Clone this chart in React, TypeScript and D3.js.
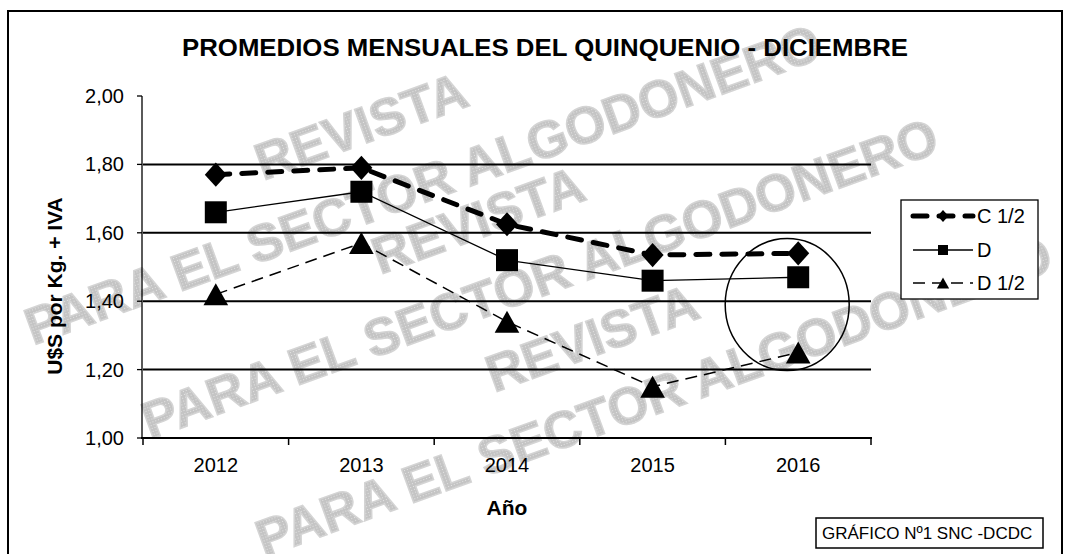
import * as d3 from "d3";

// chart data
const years = ["2012", "2013", "2014", "2015", "2016"];
const c12Values = [1.77, 1.79, 1.625, 1.535, 1.54];
const dValues = [1.66, 1.72, 1.52, 1.46, 1.47];
const d12Values = [1.42, 1.57, 1.34, 1.15, 1.25];
const yTicks = [1.0, 1.2, 1.4, 1.6, 1.8, 2.0];
const gridValues = [1.2, 1.4, 1.6, 1.8];
const seriesNames = ["C 1/2", "D", "D 1/2"];
const watermarkText = ["REVISTA", "PARA EL SECTOR ALGODONERO"];

const FONT = "'Liberation Sans', Arial, sans-serif";
const W = 1068;
const H = 554;

// custom marker shapes for d3.symbol
const diamond = {
  draw(ctx: any, size: number) {
    const r = Math.sqrt(size) / 2;
    ctx.moveTo(0, -r * 1.1);
    ctx.lineTo(r, 0);
    ctx.lineTo(0, r * 1.1);
    ctx.lineTo(-r, 0);
    ctx.closePath();
  },
};
const triangle = {
  draw(ctx: any, size: number) {
    const r = Math.sqrt(size) / 2;
    ctx.moveTo(0, -r);
    ctx.lineTo(r * 1.12, r);
    ctx.lineTo(-r * 1.12, r);
    ctx.closePath();
  },
};

const seriesStyle = [
  { width: 5, dash: "14 12", cap: "round", symbol: diamond, size: 484, legendSize: 121 },
  { width: 1.3, dash: null, cap: "butt", symbol: d3.symbolSquare, size: 484, legendSize: 100 },
  { width: 1.5, dash: "12 7", cap: "butt", symbol: triangle, size: 484, legendSize: 121 },
];

// watermark placements (centre of first line)
const watermarks = [
  [361, 126],
  [478, 220],
  [592, 338],
];

export default function App() {
  const x = d3.scaleBand().domain(years).range([143, 871]);
  const cx = (yr: string) => (x(yr) as number) + x.bandwidth() / 2;
  const y = d3.scaleLinear().domain([1, 2]).range([438, 96]);
  const fmt = d3
    .formatLocale({ decimal: ",", thousands: ".", grouping: [3], currency: ["$", ""] })
    .format(".2f");

  const allSeries = [c12Values, dValues, d12Values].map((vals, i) => ({
    name: seriesNames[i],
    points: years.map((yr, j) => [cx(yr), y(vals[j])] as [number, number]),
    style: seriesStyle[i],
  }));

  const line = d3.line();
  const boundaries = [...years.map((yr) => x(yr) as number), 871];

  return (
    <div style={{ position: "absolute", left: 0, top: 0 }}>
      <svg width={W} height={H} style={{ display: "block", background: "#fff" }} fontFamily={FONT}>
        <defs>
          <pattern id="halftone" width={3} height={3} patternUnits="userSpaceOnUse">
            <rect width={3} height={3} fill="#c4c4c4" />
            <rect width={1} height={1} fill="#e4e4e4" />
          </pattern>
          <clipPath id="page">
            <rect x={0} y={0} width={W} height={H} />
          </clipPath>
        </defs>
        <rect x={0} y={0} width={W} height={H} fill="#fff" />

        {/* watermark */}
        <g clipPath="url(#page)">
          {watermarks.map(([wx, wy], i) => (
            <g
              key={i}
              transform={`translate(${wx},${wy}) rotate(-20)`}
              fill="url(#halftone)"
              stroke="#d4d4d4"
              strokeWidth={1.5}
              fontWeight="bold"
              fontSize={52}
            >
              <text x={0} y={18} textAnchor="middle">{watermarkText[0]}</text>
              <text x={38} y={94} textAnchor="middle">{watermarkText[1]}</text>
            </g>
          ))}
        </g>

        {/* frame */}
        <rect x={8} y={11} width={1054} height={560} fill="none" stroke="#000" strokeWidth={2} />

        {/* title */}
        <text x={182} y={56} fontSize={24} fontWeight="bold" textLength={726} lengthAdjust="spacingAndGlyphs">
          PROMEDIOS MENSUALES DEL QUINQUENIO - DICIEMBRE
        </text>

        {/* grid */}
        {gridValues.map((v) => (
          <line key={v} x1={143} x2={871} y1={y(v)} y2={y(v)} stroke="#000" strokeWidth={2} />
        ))}

        {/* y axis */}
        <line x1={142} x2={142} y1={y(2)} y2={y(1)} stroke="#000" strokeWidth={1.3} />
        {yTicks.map((v) => (
          <g key={v}>
            <line x1={137} x2={142} y1={y(v)} y2={y(v)} stroke="#000" strokeWidth={1.3} />
            <text x={124} y={y(v) + 7} fontSize={20} textAnchor="end">{fmt(v)}</text>
          </g>
        ))}

        {/* x axis */}
        <line x1={141} x2={872} y1={y(1)} y2={y(1)} stroke="#000" strokeWidth={2} />
        {boundaries.map((bx, i) => (
          <line key={i} x1={bx} x2={bx} y1={y(1)} y2={y(1) + 7} stroke="#000" strokeWidth={1.5} />
        ))}
        {years.map((yr) => (
          <text key={yr} x={cx(yr)} y={472} fontSize={20} textAnchor="middle">{yr}</text>
        ))}

        <text x={cx("2014")} y={515} fontSize={21} fontWeight="bold" textAnchor="middle">Año</text>
        <text transform="translate(62,286) rotate(-90)" fontSize={21} fontWeight="bold" textAnchor="middle">
          U$S por Kg. + IVA
        </text>

        {/* series */}
        {allSeries.map((s) => (
          <g key={s.name}>
            <path
              d={line(s.points) as string}
              fill="none"
              stroke="#000"
              strokeWidth={s.style.width}
              strokeDasharray={s.style.dash ?? undefined}
              strokeLinecap={s.style.cap as any}
            />
            {s.points.map(([px, py], j) => (
              <path
                key={j}
                transform={`translate(${px},${py})`}
                d={d3.symbol(s.style.symbol as any, s.style.size)() as string}
                fill="#000"
              />
            ))}
          </g>
        ))}

        {/* highlight circle on 2016 */}
        <ellipse cx={cx("2016") - 11} cy={y(1.39)} rx={62} ry={66} fill="none" stroke="#000" strokeWidth={1.5} />

        {/* legend */}
        <rect x={901} y={200} width={137} height={99} fill="#fff" stroke="#000" strokeWidth={1.3} />
        {allSeries.map((s, i) => {
          const ly = [216, 250, 283][i];
          return (
            <g key={s.name}>
              <line
                x1={913}
                x2={973}
                y1={ly}
                y2={ly}
                stroke="#000"
                strokeWidth={s.style.width}
                strokeDasharray={s.style.dash ?? undefined}
                strokeLinecap={s.style.cap as any}
              />
              <path
                transform={`translate(943,${ly})`}
                d={d3.symbol(s.style.symbol as any, s.style.legendSize)() as string}
                fill="#000"
              />
              <text x={977} y={ly + 7} fontSize={20}>{s.name}</text>
            </g>
          );
        })}

        {/* source box */}
        <rect x={816} y={518} width={227} height={30} fill="#fff" stroke="#000" strokeWidth={1.5} />
        <text x={822} y={539} fontSize={17}>GRÁFICO Nº1 SNC -DCDC</text>
      </svg>
    </div>
  );
}
